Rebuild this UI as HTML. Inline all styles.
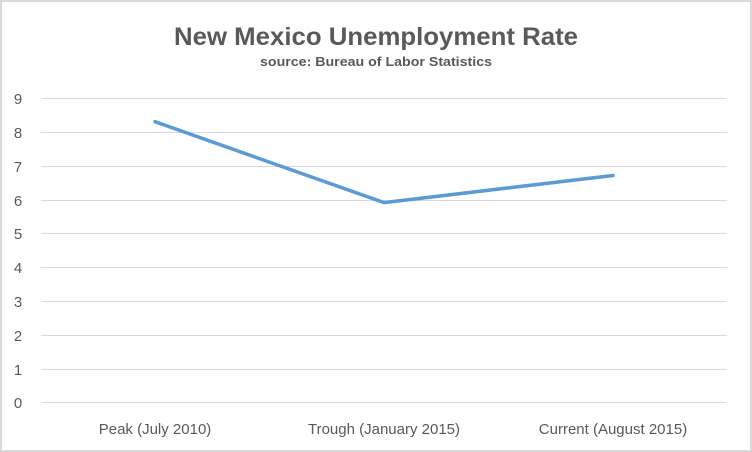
<!DOCTYPE html>
<html><head><style>
html,body{margin:0;padding:0;background:#fff}
</style></head><body>
<svg width="752" height="452" xmlns="http://www.w3.org/2000/svg" style="display:block;font-family:'Liberation Sans',sans-serif">
<rect x="0" y="0" width="752" height="452" fill="#d9d9d9"/>
<rect x="2" y="2" width="748" height="448" fill="#fff"/>
<text x="376" y="45" text-anchor="middle" font-size="25" font-weight="bold" fill="#595959" textLength="404" lengthAdjust="spacingAndGlyphs">New Mexico Unemployment Rate</text>
<text x="376" y="66" text-anchor="middle" font-size="13" font-weight="bold" fill="#595959" textLength="232" lengthAdjust="spacingAndGlyphs">source: Bureau of Labor Statistics</text>
<g stroke="#d9d9d9" stroke-width="1">
<line x1="41" x2="727" y1="98.5" y2="98.5"/>
<line x1="41" x2="727" y1="132.5" y2="132.5"/>
<line x1="41" x2="727" y1="166.5" y2="166.5"/>
<line x1="41" x2="727" y1="200.5" y2="200.5"/>
<line x1="41" x2="727" y1="233.5" y2="233.5"/>
<line x1="41" x2="727" y1="267.5" y2="267.5"/>
<line x1="41" x2="727" y1="301.5" y2="301.5"/>
<line x1="41" x2="727" y1="335.5" y2="335.5"/>
<line x1="41" x2="727" y1="369.5" y2="369.5"/>
<line x1="41" x2="727" y1="402.5" y2="402.5"/>
</g>
<g font-size="15" fill="#595959" text-anchor="middle">
<text x="18" y="104">9</text>
<text x="18" y="138">8</text>
<text x="18" y="172">7</text>
<text x="18" y="206">6</text>
<text x="18" y="239">5</text>
<text x="18" y="273">4</text>
<text x="18" y="307">3</text>
<text x="18" y="341">2</text>
<text x="18" y="375">1</text>
<text x="18" y="408">0</text>
<text x="155" y="434">Peak (July 2010)</text>
<text x="384" y="434">Trough (January 2015)</text>
<text x="613" y="434">Current (August 2015)</text>
</g>
<polyline points="155,121.7 384,202.6 613,175.5" fill="none" stroke="#5b9bd5" stroke-width="3.5" stroke-linejoin="round" stroke-linecap="round"/>
</svg>
</body></html>
